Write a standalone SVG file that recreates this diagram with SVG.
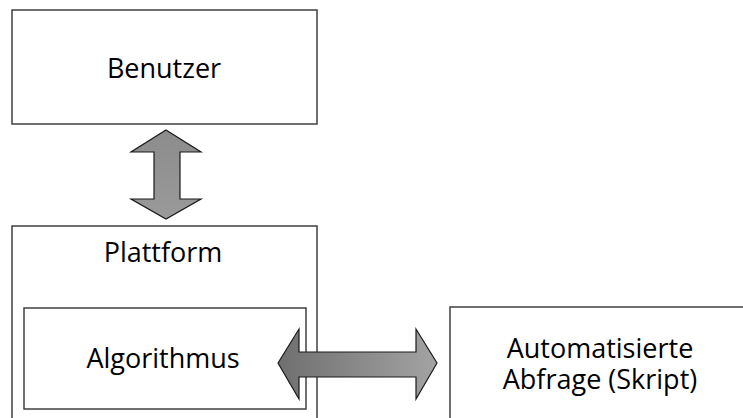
<svg xmlns="http://www.w3.org/2000/svg" width="743" height="418" viewBox="0 0 743 418">
<defs>
<linearGradient id="gv" x1="0" y1="0" x2="0" y2="1"><stop offset="0" stop-color="#8c8c8c"/><stop offset="1" stop-color="#9a9a9a"/></linearGradient>
<linearGradient id="gh" x1="0" y1="0" x2="1" y2="0"><stop offset="0" stop-color="#6f6f6f"/><stop offset="1" stop-color="#a3a3a3"/></linearGradient>
<style>
.box{fill:#fff;stroke:#404040;stroke-width:1.5}
.lbl{font-family:"Open Sans","Liberation Sans",sans-serif;font-size:27px;fill:#000;text-anchor:middle}
.arr{stroke:#1a1a1a;stroke-width:1.2;stroke-linejoin:miter}
</style>
</defs>
<rect width="743" height="418" fill="#fff"/>
<g id="benutzer"><rect class="box" x="12" y="10" width="305" height="114"/><text class="lbl" x="164" y="78">Benutzer</text></g>
<g id="plattform"><rect class="box" x="12" y="226" width="305" height="210"/><text class="lbl" x="163" y="262">Plattform</text></g>
<g id="algorithmus"><rect class="box" x="24" y="308" width="282" height="101"/><text class="lbl" x="163" y="368">Algorithmus</text></g>
<g id="abfrage"><rect class="box" x="450" y="307" width="310" height="130"/><text class="lbl" x="600" y="358">Automatisierte<tspan x="600" y="389">Abfrage (Skript)</tspan></text></g>
<g id="connectors">
<polygon class="arr" fill="url(#gv)" points="166,130 201,152 180,152 180,199 201,199 166,219 131,199 154,199 154,152 131,152"/>
<polygon class="arr" fill="url(#gh)" points="278,363 299,329 299,352 416,352 416,329 437,363 416,399 416,377 299,377 299,399"/>
</g>
</svg>
